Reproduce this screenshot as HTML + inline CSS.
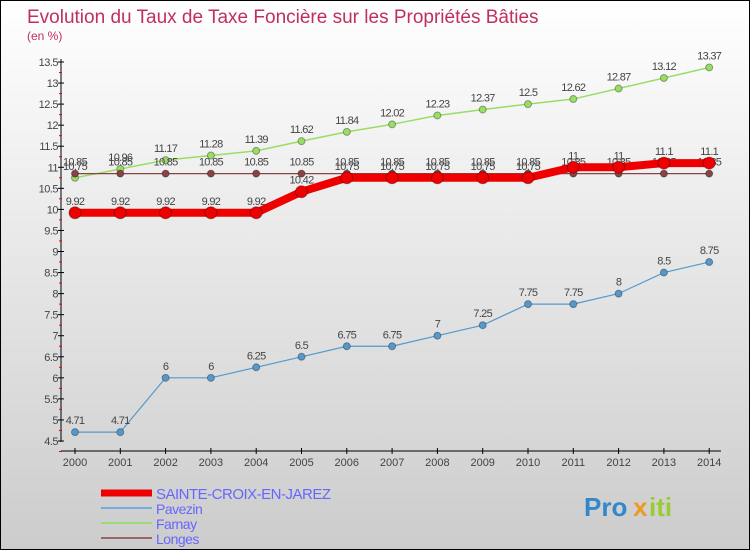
<!DOCTYPE html>
<html><head><meta charset="utf-8"><style>
body{margin:0}
#c{width:748px;height:548px;border:1px solid #000;background:linear-gradient(#fff,#ccc);position:relative;font-family:"Liberation Sans",sans-serif}
</style></head><body>
<div id="c">
<svg width="748" height="548" id="s">
<text x="26" y="22" font-size="19" fill="#c0305a">Evolution du Taux de Taxe Foncière sur les Propriétés Bâties</text>
<text x="26" y="39" font-size="12" fill="#c0305a">(en %)</text>
</svg></div>
<script>
const years=[2000,2001,2002,2003,2004,2005,2006,2007,2008,2009,2010,2011,2012,2013,2014];
const sainte=[9.92,9.92,9.92,9.92,9.92,10.42,10.75,10.75,10.75,10.75,10.75,11,11,11.1,11.1];
const pavezin=[4.71,4.71,6,6,6.25,6.5,6.75,6.75,7,7.25,7.75,7.75,8,8.5,8.75];
const farnay=[10.75,10.96,11.17,11.28,11.39,11.62,11.84,12.02,12.23,12.37,12.5,12.62,12.87,13.12,13.37];
const longes=[10.85,10.85,10.85,10.85,10.85,10.85,10.85,10.85,10.85,10.85,10.85,10.85,10.85,10.85,10.85];
const yTicks=[4.5,5,5.5,6,6.5,7,7.5,8,8.5,9,9.5,10,10.5,11,11.5,12,12.5,13,13.5];
const s=document.getElementById('s');const NS='http://www.w3.org/2000/svg';
const X=i=>74+i*45.3, Y=v=>440-(v-4.5)*(379/9);
function el(t,a,p){const e=document.createElementNS(NS,t);for(const k in a)e.setAttribute(k,a[k]);(p||s).appendChild(e);return e;}
let ax=el('line',{x1:60,y1:58,x2:60,y2:441,stroke:'#000'});


let bx=el('line',{x1:60,y1:450,x2:720,y2:450,stroke:'#000'});


yTicks.forEach(v=>{el('line',{x1:57,x2:63,y1:Y(v),y2:Y(v),stroke:'#000'});
el('line',{x1:58,x2:61,y1:Y(v)+10.5,y2:Y(v)+10.5,stroke:'#e00'});
const t=el('text',{x:57,y:Y(v)+4,'font-size':11,'text-anchor':'end',fill:'#444','letter-spacing':'-0.5'});t.textContent=v;

});
years.forEach((yr,i)=>{el('line',{x1:X(i),x2:X(i),y1:447,y2:453,stroke:'#000'});
const t=el('text',{x:X(i),y:465,'font-size':11,'text-anchor':'middle',fill:'#444'});t.textContent=yr;

});
function series(d,col,w,r,name){
const g=el('g',{});


el('polyline',{points:d.map((v,i)=>X(i)+','+Y(v)).join(' '),fill:'none',stroke:col,'stroke-width':w},g);
d.forEach((v,i)=>{const c=el('circle',{cx:X(i),cy:Y(v),r:r,fill:col,stroke:'#00000055'},g);


const t=el('text',{x:X(i),y:Y(v)-8,'font-size':11,'text-anchor':'middle',fill:'#444','letter-spacing':'-0.7'},g);t.textContent=v;

});}
series(farnay,'#99dd66',1.5,3.5,'farnay');
series(longes,'#884444',1.2,3.5,'longes');
series(pavezin,'#5599cc',1.2,3.5,'pavezin');
series(sainte,'#ee0000',8,6,'sainte-croix');
const leg=[['SAINTE-CROIX-EN-JAREZ','#ee0000',7],['Pavezin','#77aadd',2],['Farnay','#99dd77',2],['Longes','#996666',2]];
leg.forEach((l,i)=>{const y=492+i*15;
const g=el('g',{});


el('line',{x1:100,x2:151,y1:y,y2:y,stroke:l[1],'stroke-width':l[2]},g);
const t=el('text',{x:155,y:y+6,'font-size':i==0?15:14,fill:'#6666ff','letter-spacing':'-0.5'},g);t.textContent=l[0];});
const p=el('text',{x:583,y:515,'font-size':26,'font-weight':'bold',fill:'#3388cc'});p.textContent='Pro';


const p2=el('text',{x:632,y:515,'font-size':26,'font-weight':'bold',fill:'#ee9922'});p2.textContent='x';


const p3=el('text',{x:648,y:515,'font-size':26,'font-weight':'bold',fill:'#99cc33'});p3.textContent='iti';


</script>
</body></html>
